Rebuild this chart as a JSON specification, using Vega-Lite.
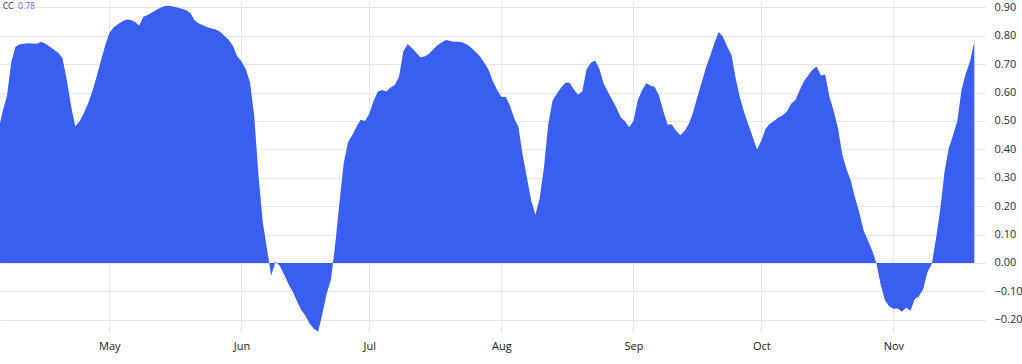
{
  "$schema": "https://vega.github.io/schema/vega-lite/v6.json",
  "width": 985,
  "height": 333,
  "autosize": {"type": "none"},
  "padding": {"left": 0, "top": 0, "right": 37, "bottom": 31},
  "background": "#ffffff",
  "config": {
    "view": {"stroke": null},
    "font": "Open Sans",
    "axis": {"gridColor": "#e6e6e6", "gridWidth": 1, "labelFont": "Open Sans", "labelFontSize": 11, "labelColor": "#2a2e39", "domain": false, "ticks": false, "title": null}
  },
  "layer": [
    {
      "data": {"values": [
        {"date": "2023/04/05", "cc": 0.47},
        {"date": "2023/04/06", "cc": 0.535},
        {"date": "2023/04/07", "cc": 0.59},
        {"date": "2023/04/08", "cc": 0.708},
        {"date": "2023/04/09", "cc": 0.761},
        {"date": "2023/04/10", "cc": 0.77},
        {"date": "2023/04/11", "cc": 0.772},
        {"date": "2023/04/12", "cc": 0.774},
        {"date": "2023/04/13", "cc": 0.773},
        {"date": "2023/04/14", "cc": 0.772},
        {"date": "2023/04/15", "cc": 0.779},
        {"date": "2023/04/16", "cc": 0.772},
        {"date": "2023/04/17", "cc": 0.762},
        {"date": "2023/04/18", "cc": 0.751},
        {"date": "2023/04/19", "cc": 0.74},
        {"date": "2023/04/20", "cc": 0.722},
        {"date": "2023/04/21", "cc": 0.647},
        {"date": "2023/04/22", "cc": 0.555},
        {"date": "2023/04/23", "cc": 0.481},
        {"date": "2023/04/24", "cc": 0.498},
        {"date": "2023/04/25", "cc": 0.527},
        {"date": "2023/04/26", "cc": 0.561},
        {"date": "2023/04/27", "cc": 0.604},
        {"date": "2023/04/28", "cc": 0.655},
        {"date": "2023/04/29", "cc": 0.71},
        {"date": "2023/04/30", "cc": 0.764},
        {"date": "2023/05/01", "cc": 0.81},
        {"date": "2023/05/02", "cc": 0.829},
        {"date": "2023/05/03", "cc": 0.841},
        {"date": "2023/05/04", "cc": 0.85},
        {"date": "2023/05/05", "cc": 0.857},
        {"date": "2023/05/06", "cc": 0.856},
        {"date": "2023/05/07", "cc": 0.849},
        {"date": "2023/05/08", "cc": 0.836},
        {"date": "2023/05/09", "cc": 0.867},
        {"date": "2023/05/10", "cc": 0.873},
        {"date": "2023/05/11", "cc": 0.882},
        {"date": "2023/05/12", "cc": 0.891},
        {"date": "2023/05/13", "cc": 0.899},
        {"date": "2023/05/14", "cc": 0.905},
        {"date": "2023/05/15", "cc": 0.906},
        {"date": "2023/05/16", "cc": 0.903},
        {"date": "2023/05/17", "cc": 0.9},
        {"date": "2023/05/18", "cc": 0.895},
        {"date": "2023/05/19", "cc": 0.89},
        {"date": "2023/05/20", "cc": 0.88},
        {"date": "2023/05/21", "cc": 0.855},
        {"date": "2023/05/22", "cc": 0.843},
        {"date": "2023/05/23", "cc": 0.837},
        {"date": "2023/05/24", "cc": 0.83},
        {"date": "2023/05/25", "cc": 0.826},
        {"date": "2023/05/26", "cc": 0.822},
        {"date": "2023/05/27", "cc": 0.814},
        {"date": "2023/05/28", "cc": 0.8},
        {"date": "2023/05/29", "cc": 0.786},
        {"date": "2023/05/30", "cc": 0.765},
        {"date": "2023/05/31", "cc": 0.728},
        {"date": "2023/06/01", "cc": 0.71},
        {"date": "2023/06/02", "cc": 0.683},
        {"date": "2023/06/03", "cc": 0.637},
        {"date": "2023/06/04", "cc": 0.52},
        {"date": "2023/06/05", "cc": 0.31},
        {"date": "2023/06/06", "cc": 0.145},
        {"date": "2023/06/07", "cc": 0.05},
        {"date": "2023/06/08", "cc": -0.045},
        {"date": "2023/06/09", "cc": 0.004},
        {"date": "2023/06/10", "cc": -0.01},
        {"date": "2023/06/11", "cc": -0.04},
        {"date": "2023/06/12", "cc": -0.073},
        {"date": "2023/06/13", "cc": -0.1},
        {"date": "2023/06/14", "cc": -0.133},
        {"date": "2023/06/15", "cc": -0.165},
        {"date": "2023/06/16", "cc": -0.185},
        {"date": "2023/06/17", "cc": -0.213},
        {"date": "2023/06/18", "cc": -0.232},
        {"date": "2023/06/19", "cc": -0.242},
        {"date": "2023/06/20", "cc": -0.18},
        {"date": "2023/06/21", "cc": -0.108},
        {"date": "2023/06/22", "cc": -0.06},
        {"date": "2023/06/23", "cc": 0.063},
        {"date": "2023/06/24", "cc": 0.21},
        {"date": "2023/06/25", "cc": 0.35},
        {"date": "2023/06/26", "cc": 0.424},
        {"date": "2023/06/27", "cc": 0.45},
        {"date": "2023/06/28", "cc": 0.48},
        {"date": "2023/06/29", "cc": 0.504},
        {"date": "2023/06/30", "cc": 0.5},
        {"date": "2023/07/01", "cc": 0.525},
        {"date": "2023/07/02", "cc": 0.57},
        {"date": "2023/07/03", "cc": 0.603},
        {"date": "2023/07/04", "cc": 0.609},
        {"date": "2023/07/05", "cc": 0.604},
        {"date": "2023/07/06", "cc": 0.618},
        {"date": "2023/07/07", "cc": 0.627},
        {"date": "2023/07/08", "cc": 0.657},
        {"date": "2023/07/09", "cc": 0.745},
        {"date": "2023/07/10", "cc": 0.771},
        {"date": "2023/07/11", "cc": 0.757},
        {"date": "2023/07/12", "cc": 0.741},
        {"date": "2023/07/13", "cc": 0.724},
        {"date": "2023/07/14", "cc": 0.727},
        {"date": "2023/07/15", "cc": 0.737},
        {"date": "2023/07/16", "cc": 0.752},
        {"date": "2023/07/17", "cc": 0.767},
        {"date": "2023/07/18", "cc": 0.776},
        {"date": "2023/07/19", "cc": 0.785},
        {"date": "2023/07/20", "cc": 0.782},
        {"date": "2023/07/21", "cc": 0.779},
        {"date": "2023/07/22", "cc": 0.779},
        {"date": "2023/07/23", "cc": 0.776},
        {"date": "2023/07/24", "cc": 0.768},
        {"date": "2023/07/25", "cc": 0.757},
        {"date": "2023/07/26", "cc": 0.743},
        {"date": "2023/07/27", "cc": 0.727},
        {"date": "2023/07/28", "cc": 0.705},
        {"date": "2023/07/29", "cc": 0.68},
        {"date": "2023/07/30", "cc": 0.64},
        {"date": "2023/07/31", "cc": 0.61},
        {"date": "2023/08/01", "cc": 0.584},
        {"date": "2023/08/02", "cc": 0.585},
        {"date": "2023/08/03", "cc": 0.555},
        {"date": "2023/08/04", "cc": 0.51},
        {"date": "2023/08/05", "cc": 0.48},
        {"date": "2023/08/06", "cc": 0.38},
        {"date": "2023/08/07", "cc": 0.3},
        {"date": "2023/08/08", "cc": 0.22},
        {"date": "2023/08/09", "cc": 0.17},
        {"date": "2023/08/10", "cc": 0.228},
        {"date": "2023/08/11", "cc": 0.336},
        {"date": "2023/08/12", "cc": 0.488},
        {"date": "2023/08/13", "cc": 0.57},
        {"date": "2023/08/14", "cc": 0.596},
        {"date": "2023/08/15", "cc": 0.617},
        {"date": "2023/08/16", "cc": 0.635},
        {"date": "2023/08/17", "cc": 0.635},
        {"date": "2023/08/18", "cc": 0.612},
        {"date": "2023/08/19", "cc": 0.592},
        {"date": "2023/08/20", "cc": 0.605},
        {"date": "2023/08/21", "cc": 0.682},
        {"date": "2023/08/22", "cc": 0.705},
        {"date": "2023/08/23", "cc": 0.713},
        {"date": "2023/08/24", "cc": 0.684},
        {"date": "2023/08/25", "cc": 0.632},
        {"date": "2023/08/26", "cc": 0.603},
        {"date": "2023/08/27", "cc": 0.575},
        {"date": "2023/08/28", "cc": 0.547},
        {"date": "2023/08/29", "cc": 0.513},
        {"date": "2023/08/30", "cc": 0.499},
        {"date": "2023/08/31", "cc": 0.478},
        {"date": "2023/09/01", "cc": 0.5},
        {"date": "2023/09/02", "cc": 0.572},
        {"date": "2023/09/03", "cc": 0.607},
        {"date": "2023/09/04", "cc": 0.633},
        {"date": "2023/09/05", "cc": 0.625},
        {"date": "2023/09/06", "cc": 0.62},
        {"date": "2023/09/07", "cc": 0.59},
        {"date": "2023/09/08", "cc": 0.535},
        {"date": "2023/09/09", "cc": 0.488},
        {"date": "2023/09/10", "cc": 0.488},
        {"date": "2023/09/11", "cc": 0.466},
        {"date": "2023/09/12", "cc": 0.45},
        {"date": "2023/09/13", "cc": 0.465},
        {"date": "2023/09/14", "cc": 0.49},
        {"date": "2023/09/15", "cc": 0.53},
        {"date": "2023/09/16", "cc": 0.585},
        {"date": "2023/09/17", "cc": 0.635},
        {"date": "2023/09/18", "cc": 0.687},
        {"date": "2023/09/19", "cc": 0.73},
        {"date": "2023/09/20", "cc": 0.775},
        {"date": "2023/09/21", "cc": 0.813},
        {"date": "2023/09/22", "cc": 0.797},
        {"date": "2023/09/23", "cc": 0.762},
        {"date": "2023/09/24", "cc": 0.732},
        {"date": "2023/09/25", "cc": 0.65},
        {"date": "2023/09/26", "cc": 0.582},
        {"date": "2023/09/27", "cc": 0.53},
        {"date": "2023/09/28", "cc": 0.486},
        {"date": "2023/09/29", "cc": 0.444},
        {"date": "2023/09/30", "cc": 0.4},
        {"date": "2023/10/01", "cc": 0.43},
        {"date": "2023/10/02", "cc": 0.473},
        {"date": "2023/10/03", "cc": 0.49},
        {"date": "2023/10/04", "cc": 0.5},
        {"date": "2023/10/05", "cc": 0.512},
        {"date": "2023/10/06", "cc": 0.52},
        {"date": "2023/10/07", "cc": 0.533},
        {"date": "2023/10/08", "cc": 0.561},
        {"date": "2023/10/09", "cc": 0.574},
        {"date": "2023/10/10", "cc": 0.608},
        {"date": "2023/10/11", "cc": 0.64},
        {"date": "2023/10/12", "cc": 0.66},
        {"date": "2023/10/13", "cc": 0.68},
        {"date": "2023/10/14", "cc": 0.692},
        {"date": "2023/10/15", "cc": 0.66},
        {"date": "2023/10/16", "cc": 0.664},
        {"date": "2023/10/17", "cc": 0.585},
        {"date": "2023/10/18", "cc": 0.535},
        {"date": "2023/10/19", "cc": 0.474},
        {"date": "2023/10/20", "cc": 0.383},
        {"date": "2023/10/21", "cc": 0.33},
        {"date": "2023/10/22", "cc": 0.29},
        {"date": "2023/10/23", "cc": 0.23},
        {"date": "2023/10/24", "cc": 0.178},
        {"date": "2023/10/25", "cc": 0.115},
        {"date": "2023/10/26", "cc": 0.08},
        {"date": "2023/10/27", "cc": 0.045},
        {"date": "2023/10/28", "cc": 0.0},
        {"date": "2023/10/29", "cc": -0.075},
        {"date": "2023/10/30", "cc": -0.13},
        {"date": "2023/10/31", "cc": -0.152},
        {"date": "2023/11/01", "cc": -0.161},
        {"date": "2023/11/02", "cc": -0.16},
        {"date": "2023/11/03", "cc": -0.172},
        {"date": "2023/11/04", "cc": -0.158},
        {"date": "2023/11/05", "cc": -0.168},
        {"date": "2023/11/06", "cc": -0.128},
        {"date": "2023/11/07", "cc": -0.117},
        {"date": "2023/11/08", "cc": -0.092},
        {"date": "2023/11/09", "cc": -0.032},
        {"date": "2023/11/10", "cc": -0.004},
        {"date": "2023/11/11", "cc": 0.085},
        {"date": "2023/11/12", "cc": 0.19},
        {"date": "2023/11/13", "cc": 0.32},
        {"date": "2023/11/14", "cc": 0.405},
        {"date": "2023/11/15", "cc": 0.45},
        {"date": "2023/11/16", "cc": 0.5},
        {"date": "2023/11/17", "cc": 0.61},
        {"date": "2023/11/18", "cc": 0.668},
        {"date": "2023/11/19", "cc": 0.71},
        {"date": "2023/11/20", "cc": 0.78}
      ]},
      "mark": {"type": "area", "color": "#3A5FF0", "clip": true, "interpolate": "linear"},
      "encoding": {
        "x": {
          "field": "date", "type": "temporal",
          "scale": {"domain": [{"year": 2023, "month": "apr", "date": 5, "hours": 8, "minutes": 24}, {"year": 2023, "month": "nov", "date": 22, "hours": 12}], "nice": false},
          "axis": {"format": "%b", "tickCount": {"interval": "month", "step": 1}, "labelPadding": 7, "labelColor": "#131722", "grid": true, "title": null}
        },
        "y": {
          "field": "cc", "type": "quantitative",
          "scale": {"domain": [-0.2466, 0.926], "nice": false, "zero": false},
          "axis": {"orient": "right", "values": [-0.2, -0.1, 0, 0.1, 0.2, 0.3, 0.4, 0.5, 0.6, 0.7, 0.8, 0.9], "labelOverlap": false, "format": ".2f", "labelPadding": 9, "grid": true, "title": null}
        },
        "y2": {"datum": 0}
      }
    },
    {
      "data": {"values": [{}]},
      "mark": {"type": "text", "text": "CC", "align": "left", "baseline": "middle", "fontSize": 8.5, "color": "#333333"},
      "encoding": {
        "x": {"datum": {"year": 2023, "month": "apr", "date": 6}, "type": "temporal",
          "axis": {"format": "%b", "tickCount": {"interval": "month", "step": 1}, "labelPadding": 7, "labelColor": "#131722", "grid": true, "title": null}},
        "y": {"datum": 0.905, "type": "quantitative",
          "axis": {"orient": "right", "values": [-0.2, -0.1, 0, 0.1, 0.2, 0.3, 0.4, 0.5, 0.6, 0.7, 0.8, 0.9], "labelOverlap": false, "format": ".2f", "labelPadding": 9, "grid": true, "title": null}}
      }
    },
    {
      "data": {"values": [{}]},
      "mark": {"type": "text", "text": "0.78", "align": "left", "baseline": "middle", "fontSize": 8.5, "color": "#5b6fe0"},
      "encoding": {
        "x": {"datum": {"year": 2023, "month": "apr", "date": 9, "hours": 14}, "type": "temporal",
          "axis": {"format": "%b", "tickCount": {"interval": "month", "step": 1}, "labelPadding": 7, "labelColor": "#131722", "grid": true, "title": null}},
        "y": {"datum": 0.905, "type": "quantitative",
          "axis": {"orient": "right", "values": [-0.2, -0.1, 0, 0.1, 0.2, 0.3, 0.4, 0.5, 0.6, 0.7, 0.8, 0.9], "labelOverlap": false, "format": ".2f", "labelPadding": 9, "grid": true, "title": null}}
      }
    }
  ]
}
